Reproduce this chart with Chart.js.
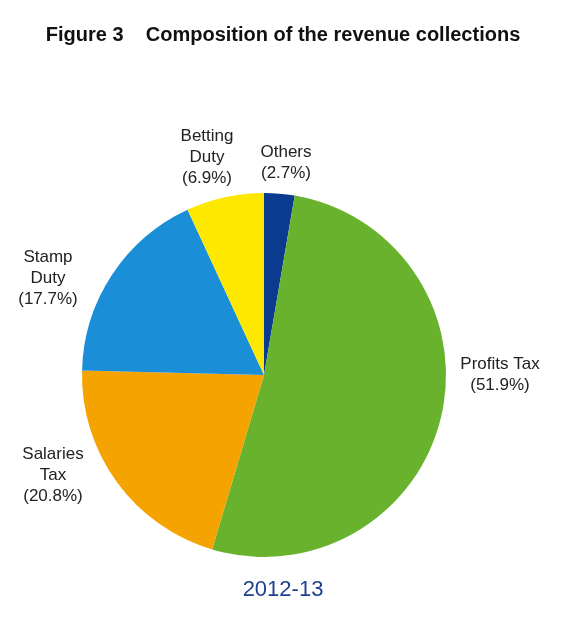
<!DOCTYPE html>
<html>
<head>
<meta charset="utf-8">
<script src="https://cdn.jsdelivr.net/npm/chart.js@4"></script>
<style>
  html, body { margin: 0; padding: 0; background: #fff; }
  #wrap { width: 572px; height: 627px; position: relative; }
</style>
</head>
<body>
<div id="wrap"><canvas id="chart"></canvas></div>
<script>
const categories = ['Others', 'Profits Tax', 'Salaries Tax', 'Stamp Duty', 'Betting Duty'];
const shares = [2.7, 51.9, 20.8, 17.7, 6.9];
const labelLines = [['Others', '(2.7%)'], ['Profits Tax', '(51.9%)'], ['Salaries', 'Tax', '(20.8%)'], ['Stamp', 'Duty', '(17.7%)'], ['Betting', 'Duty', '(6.9%)']];
const colors = ['#0b3b8f', '#68b22e', '#f4a300', '#1a8ed6', '#ffe800'];
// label anchor offsets from the pie centre
const labelOffsets = [[22, -212], [236, 0], [-211, 100], [-216, -97], [-57, -218]];

const textPlugin = {
    id: 'texts',
    afterDraw(chart) {
        const ctx = chart.ctx;
        ctx.save();
        ctx.textAlign = 'center';
        ctx.textBaseline = 'middle';
        ctx.fillStyle = '#111';
        ctx.font = 'bold 20px "Liberation Sans", Arial, sans-serif';
        ctx.fillText('Figure 3    Composition of the revenue collections', 283, 35);

        ctx.fillStyle = '#1f3f8f';
        ctx.font = '22px "Liberation Sans", Arial, sans-serif';
        ctx.fillText('2012-13', 283, 590);

        ctx.fillStyle = '#222';
        ctx.font = '17px "Liberation Sans", Arial, sans-serif';
        const meta = chart.getDatasetMeta(0);
        meta.data.forEach((arc, i) => {
            const x = arc.x + labelOffsets[i][0];
            const y = arc.y + labelOffsets[i][1];
            const lines = labelLines[i];
            const lh = 21;
            lines.forEach((t, j) => {
                ctx.fillText(t, x, y + (j - (lines.length - 1) / 2) * lh);
            });
        });
        ctx.restore();
    }
};

new Chart(document.getElementById('chart'), {
    type: 'pie',
    data: {
        labels: categories,
        datasets: [{
            data: shares,
            backgroundColor: colors,
            borderWidth: 0
        }]
    },
    options: {
        responsive: true,
        maintainAspectRatio: false,
        animation: false,
        layout: { padding: { left: 82, right: 126, top: 193, bottom: 70 } },
        plugins: {
            legend: { display: false },
            tooltip: { enabled: false }
        }
    },
    plugins: [textPlugin]
});
</script>
</body>
</html>
